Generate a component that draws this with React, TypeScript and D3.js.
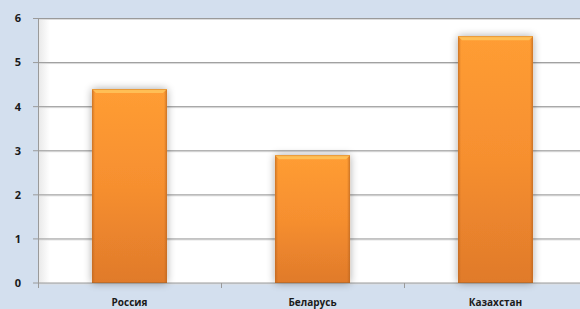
import React from "react";
import * as d3 from "d3";

const categories = ["Россия", "Беларусь", "Казахстан"];
const values = [4.4, 2.9, 5.6];
const yTicks = [0, 1, 2, 3, 4, 5, 6];

const W = 580;
const H = 309;
const left = 38;
const bandW = 183;
const top = 18.5;
const bottom = 283;

export default function App() {
  const x = d3
    .scaleBand<string>()
    .domain(categories)
    .range([left, left + bandW * categories.length])
    .paddingInner(0.59)
    .paddingOuter(0.295);
  const y = d3.scaleLinear().domain([0, 6]).range([bottom, top]);
  const bw = x.bandwidth();
  const font = "'Open Sans', 'DejaVu Sans', sans-serif";

  return (
    <svg
      width={W}
      height={H}
      style={{ position: "fixed", left: 0, top: 0, display: "block" }}
    >
      <defs>
        <linearGradient id="barG" x1="0" y1="0" x2="0" y2="1">
          <stop offset="0" stopColor="#FF9D34" />
          <stop offset="0.5" stopColor="#F68F2F" />
          <stop offset="1" stopColor="#E07A2B" />
        </linearGradient>
        <linearGradient id="sideL" x1="0" y1="0" x2="1" y2="0">
          <stop offset="0" stopColor="#B8641F" stopOpacity="0.7" />
          <stop offset="1" stopColor="#B8641F" stopOpacity="0" />
        </linearGradient>
        <linearGradient id="sideR" x1="1" y1="0" x2="0" y2="0">
          <stop offset="0" stopColor="#B8641F" stopOpacity="0.7" />
          <stop offset="1" stopColor="#B8641F" stopOpacity="0" />
        </linearGradient>
        <linearGradient id="plotShade" x1="0" y1="0" x2="1" y2="0">
          <stop offset="0" stopColor="#E8E8E8" />
          <stop offset="1" stopColor="#FFFFFF" />
        </linearGradient>
        <filter id="shadow" x="-30%" y="-30%" width="160%" height="160%">
          <feGaussianBlur in="SourceAlpha" stdDeviation="4" />
          <feOffset dx="0" dy="0" result="b" />
          <feComponentTransfer>
            <feFuncA type="linear" slope="0.35" />
          </feComponentTransfer>
          <feMerge>
            <feMergeNode />
            <feMergeNode in="SourceGraphic" />
          </feMerge>
        </filter>
      </defs>
      <rect x={0} y={0} width={W} height={H} fill="#D3DFEE" />
      <rect x={left} y={top} width={W - left} height={bottom - top} fill="#FFFFFF" />
      <rect x={left} y={top} width={12} height={bottom - top} fill="url(#plotShade)" />
      {/* gridlines */}
      {yTicks.map((t) => (
        <g key={t}>
          <line x1={left} x2={W} y1={y(t) + 1} y2={y(t) + 1} stroke="#DDDDDD" strokeWidth={1} />
          <line x1={left - 5} x2={W} y1={y(t)} y2={y(t)} stroke="#9A9A9A" strokeWidth={1} />
          <text
            x={21}
            y={y(t)}
            dy="0.35em"
            textAnchor="end"
            fontFamily={font}
            fontWeight={700}
            fontSize={11}
            fill="#1A1A1A"
          >
            {t}
          </text>
        </g>
      ))}
      {/* y axis */}
      <line x1={left + 0.5} x2={left + 0.5} y1={top} y2={bottom + 5} stroke="#9A9A9A" strokeWidth={1} />
      {/* category ticks */}
      {categories.map((c, i) => (
        <line
          key={c}
          x1={left + bandW * (i + 1) + 0.5}
          x2={left + bandW * (i + 1) + 0.5}
          y1={bottom}
          y2={bottom + 5}
          stroke="#9A9A9A"
        />
      ))}
      {/* bars */}
      {categories.map((c, i) => {
        const bx = x(c)!;
        const by = y(values[i]);
        const bh = bottom - by;
        return (
          <g key={c}>
            <rect x={bx} y={by} width={bw} height={bh} fill="url(#barG)" filter="url(#shadow)" />
            <rect x={bx} y={by} width={3} height={bh} fill="url(#sideL)" />
            <rect x={bx + bw - 3} y={by} width={3} height={bh} fill="url(#sideR)" />
            <polygon
              points={`${bx},${by} ${bx + bw},${by} ${bx + bw - 4},${by + 4} ${bx + 4},${by + 4}`}
              fill="#FFC35A"
              opacity={0.9}
            />
            <line x1={bx} x2={bx + bw} y1={by + 0.5} y2={by + 0.5} stroke="#E89A3A" />
            <line x1={bx} x2={bx + bw} y1={bottom - 0.5} y2={bottom - 0.5} stroke="#A8652A" opacity={0.6} />
            <text
              x={bx + bw / 2}
              y={306}
              textAnchor="middle"
              fontFamily={font}
              fontWeight={700}
              fontSize={10}
              fill="#1A1A1A"
            >
              {c}
            </text>
          </g>
        );
      })}
    </svg>
  );
}
